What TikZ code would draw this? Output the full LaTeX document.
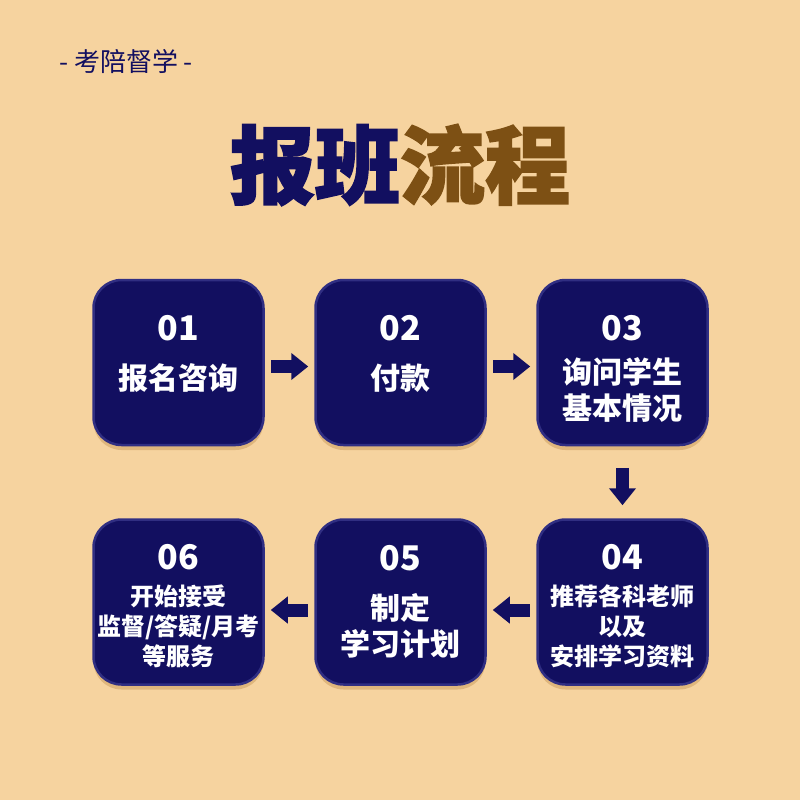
\documentclass[tikz,border=0pt]{standalone}
\usepackage{fontspec}
\setmainfont{Noto Sans CJK SC}
\newfontfamily\titlefont{Noto Sans CJK SC}[BoldFeatures={FakeBold=2}]
\usetikzlibrary{arrows.meta,positioning,shadows}
\definecolor{pagebg}{RGB}{246,211,159}
\definecolor{navy}{RGB}{18,15,96}
\definecolor{navyrim}{RGB}{48,46,130}
\definecolor{titlebrown}{RGB}{125,80,20}
\definecolor{shadowtan}{RGB}{214,170,110}
\tikzset{
  stage/.style  ={rectangle, rounded corners=28pt, fill=navy, draw=navyrim,
                  line width=2.5pt, text=white, align=center,
                  minimum width=170pt, minimum height=165pt, inner sep=2pt,
                  font=\bfseries\fontsize{30}{36}\selectfont,
                  drop shadow={shadow xshift=0pt, shadow yshift=-5pt,
                               fill=shadowtan, opacity=.7}},
  stageS/.style ={stage, font=\bfseries\fontsize{24}{30}\selectfont}, % three lines
  flow/.style   ={-{Triangle[length=17pt,width=26pt]}, line width=13pt,
                  draw=navy, shorten <=6.5pt, shorten >=6pt},
}
\newcommand{\stageno}[1]{{\fontsize{34}{40}\selectfont #1}}

\begin{document}
\begin{tikzpicture}[x=1pt, y=-1pt, node distance=72pt and 49.5pt]
  \path[use as bounding box, fill=pagebg] (0,0) rectangle (800,800);
  \node[text=navy, font=\fontsize{26}{30}\selectfont] (tag) at (126,62) {- 考陪督学 -};
  \node[font=\titlefont\bfseries\fontsize{85}{90}\selectfont] (title) at (400,165)
    {\textcolor{navy}{报班}\textcolor{titlebrown}{流程}};

  % struts move the text up or down a little
  \node[stage]                (b1) at (178.5,362.5) {\stageno{01}\\[13pt]报名咨询\rule[-20pt]{0pt}{20pt}};
  \node[stage, right=of b1]   (b2) {\stageno{02}\\[13pt]付款\rule[-20pt]{0pt}{20pt}};
  \node[stage, right=of b2]   (b3) {\stageno{03}\rule{0pt}{37pt}\\[7pt]询问学生\\基本情况};
  \node[stageS, below=of b3]  (b4) {\stageno{04}\rule{0pt}{33pt}\\[6pt]推荐各科老师\\以及\\安排学习资料};
  \node[stage, left=of b4]    (b5) {\stageno{05}\\[13pt]制定\\学习计划};
  \node[stageS, left=of b5]   (b6) {\stageno{06}\rule{0pt}{33pt}\\[6pt]开始接受\\监督/答疑/月考\\等服务};

  \draw[flow] ([yshift=-4pt]b1.east) -- ([yshift=-4pt]b2.west);
  \draw[flow] ([yshift=-4pt]b2.east) -- ([yshift=-4pt]b3.west);
  \draw[flow, shorten <=21.5pt, shorten >=13pt] (b3) -- (b4);
  \draw[flow] ([yshift=-8pt]b4.west) -- ([yshift=-8pt]b5.east);
  \draw[flow] ([yshift=-8pt]b5.west) -- ([yshift=-8pt]b6.east);
\end{tikzpicture}
\end{document}
